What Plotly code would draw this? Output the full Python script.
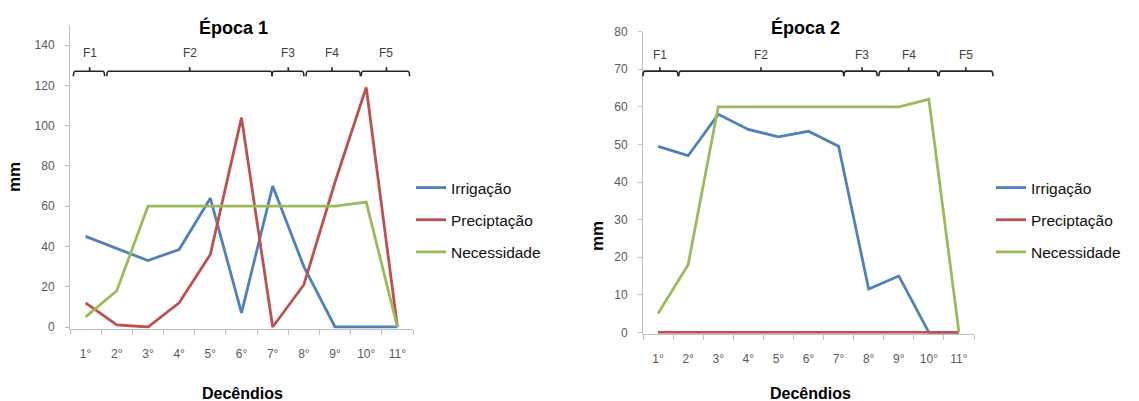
import plotly.graph_objects as go

# ---------------- data ----------------
decendios = ["1°", "2°", "3°", "4°", "5°", "6°", "7°", "8°", "9°", "10°", "11°"]
series_names = ["Irrigação", "Preciptação", "Necessidade"]

irrigacao_1 = [45, 39, 33, 38.5, 64, 7, 70, 30, 0, 0, 0]
precipitacao_1 = [12, 1, 0, 12, 36, 104, 0, 21, 72, 119, 0]
necessidade_1 = [5, 18, 60, 60, 60, 60, 60, 60, 60, 62, 0]

irrigacao_2 = [49.5, 47, 58, 54, 52, 53.5, 49.5, 11.5, 15, 0, 0]
precipitacao_2 = [0, 0, 0, 0, 0, 0, 0, 0, 0, 0, 0]
necessidade_2 = [5, 18, 60, 60, 60, 60, 60, 60, 60, 62, 0]

fases = ["F1", "F2", "F3", "F4", "F5"]
# phase spans in decêndio (category index) units
fase_inicio_1 = [-0.39, 0.68, 5.98, 7.07, 8.84]
fase_fim_1 = [0.61, 5.98, 7.0, 8.81, 10.39]
fase_meio_1 = [0.13, 3.34, 6.5, 7.9, 9.65]
fase_nivel_1 = 127

fase_inicio_2 = [-0.5, 0.69, 6.18, 7.34, 9.34]
fase_fim_2 = [0.66, 6.17, 7.28, 9.3, 11.13]
fase_meio_2 = [0.06, 3.42, 6.78, 8.33, 10.23]
fase_nivel_2 = 69.5

# ---------------- layout geometry ----------------
W, H = 1139, 401
colors = ["#4F81BD", "#C0504D", "#9BBB59"]
xr = [-0.5, 10.5]


def y_domain(px_zero, px_top, top_val, lo):
    # pixel rows of value 0 and value top_val; range starts slightly below 0 (lo)
    scale = (px_zero - px_top) / top_val
    px_bottom = px_zero + (-lo) * scale
    return [1 - px_bottom / H, 1 - px_top / H]


yr1 = [-0.8, 150]
dom_x1 = [70 / W, 413 / W]
dom_y1 = y_domain(327, 25, 150, yr1[0])
yr2 = [-0.4, 80]
dom_x2 = [643 / W, 974 / W]
dom_y2 = y_domain(332.3, 31.7, 80, yr2[0])


def to_paper(v, dom, rng):
    return dom[0] + (v - rng[0]) / (rng[1] - rng[0]) * (dom[1] - dom[0])


fig = go.Figure()

for i, (name, ys) in enumerate(zip(series_names, [irrigacao_1, precipitacao_1, necessidade_1])):
    fig.add_trace(go.Scatter(x=decendios, y=ys, mode="lines", name=name,
                             line=dict(color=colors[i], width=2.8),
                             xaxis="x", yaxis="y", legend="legend",
                             legendgroup="a" + str(i)))
for i, (name, ys) in enumerate(zip(series_names, [irrigacao_2, precipitacao_2, necessidade_2])):
    fig.add_trace(go.Scatter(x=decendios, y=ys, mode="lines", name=name,
                             line=dict(color=colors[i], width=2.8),
                             xaxis="x2", yaxis="y2", legend="legend2",
                             legendgroup="b" + str(i)))

axis_font = dict(family="Liberation Sans, Arial, sans-serif", size=12, color="#595959")
common_x = dict(type="category", range=xr, showline=True, linecolor="#BFBFBF", linewidth=1,
                ticks="outside", ticklen=5, tickcolor="#BFBFBF", tickson="boundaries",
                showgrid=False, zeroline=False, tickfont=axis_font, ticklabelstandoff=14,
                automargin=False, layer="below traces")
common_y = dict(showline=True, linecolor="#BFBFBF", linewidth=1, ticks="outside", ticklen=4,
                tickcolor="#BFBFBF", showgrid=False, zeroline=False, tickfont=axis_font,
                ticklabelstandoff=8, automargin=False, layer="below traces")

fig.update_layout(
    width=W, height=H, autosize=False,
    margin=dict(l=0, r=0, t=0, b=0, pad=0, autoexpand=False),
    paper_bgcolor="white", plot_bgcolor="white",
    font=dict(family="Liberation Sans, Arial, sans-serif"),
    xaxis=dict(domain=dom_x1, anchor="y", **common_x),
    yaxis=dict(domain=dom_y1, anchor="x", range=yr1, tick0=0, dtick=20, **common_y),
    xaxis2=dict(domain=dom_x2, anchor="y2", **common_x),
    yaxis2=dict(domain=dom_y2, anchor="x2", range=yr2, tick0=0, dtick=10, **common_y),
    legend=dict(x=411 / W, y=1 - 171 / H, xanchor="left", yanchor="top",
                font=dict(size=15.5, color="#111111"), tracegroupgap=9,
                bgcolor="rgba(0,0,0,0)"),
    legend2=dict(x=991 / W, y=1 - 171 / H, xanchor="left", yanchor="top",
                 font=dict(size=15.5, color="#111111"), tracegroupgap=9,
                 bgcolor="rgba(0,0,0,0)"),
)

annotations = []
shapes = []

# titles and axis titles
title_font = dict(family="Liberation Sans, Arial, sans-serif", size=18, color="#000000")
bold_font = dict(family="Liberation Sans, Arial, sans-serif", size=16, color="#000000")
for cx, txt in [(233, "<b>Época 1</b>"), (805, "<b>Época 2</b>")]:
    annotations.append(dict(x=cx / W, y=1 - 27 / H, xref="paper", yref="paper", text=txt,
                            showarrow=False, font=title_font, xanchor="center", yanchor="middle"))
for cx, txt in [(242, "<b>Decêndios</b>"), (810, "<b>Decêndios</b>")]:
    annotations.append(dict(x=cx / W, y=1 - 393 / H, xref="paper", yref="paper", text=txt,
                            showarrow=False, font=bold_font, xanchor="center", yanchor="middle"))
for cx, cy in [(15, 177), (597, 236)]:
    annotations.append(dict(x=cx / W, y=1 - cy / H, xref="paper", yref="paper", text="<b>mm</b>",
                            showarrow=False, font=dict(family="Liberation Sans, Arial, sans-serif",
                                                       size=17, color="#000000"),
                            textangle=-90, xanchor="center", yanchor="middle"))

# phase brackets
hook = 5 / H
tick_up = 4 / H
for inicio, fim, meio, nivel, domx, domy, yr, lab_off in [
        (fase_inicio_1, fase_fim_1, fase_meio_1, fase_nivel_1, dom_x1, dom_y1, yr1, 18),
        (fase_inicio_2, fase_fim_2, fase_meio_2, fase_nivel_2, dom_x2, dom_y2, yr2, 16)]:
    yb = to_paper(nivel, domy, yr)
    for f, a, b, m in zip(fases, inicio, fim, meio):
        x0 = to_paper(a, domx, xr)
        x1 = to_paper(b, domx, xr)
        xm = to_paper(m, domx, xr)
        d = 2 / W
        path = (f"M {x0},{yb - hook} Q {x0},{yb} {x0 + d},{yb} L {x1 - d},{yb} "
                f"Q {x1},{yb} {x1},{yb - hook} M {xm},{yb} L {xm},{yb + tick_up}")
        shapes.append(dict(type="path", path=path, xref="paper", yref="paper",
                           line=dict(color="#262626", width=1.6)))
        annotations.append(dict(x=xm, y=yb + lab_off / H, xref="paper", yref="paper", text=f,
                                showarrow=False, xanchor="center", yanchor="middle",
                                font=dict(family="Liberation Sans, Arial, sans-serif",
                                          size=12, color="#404040")))

fig.update_layout(annotations=annotations, shapes=shapes)

fig.write_html("out.html", config={"displayModeBar": False},
               post_script="document.body.style.margin='0px';document.body.style.overflow='hidden';")
